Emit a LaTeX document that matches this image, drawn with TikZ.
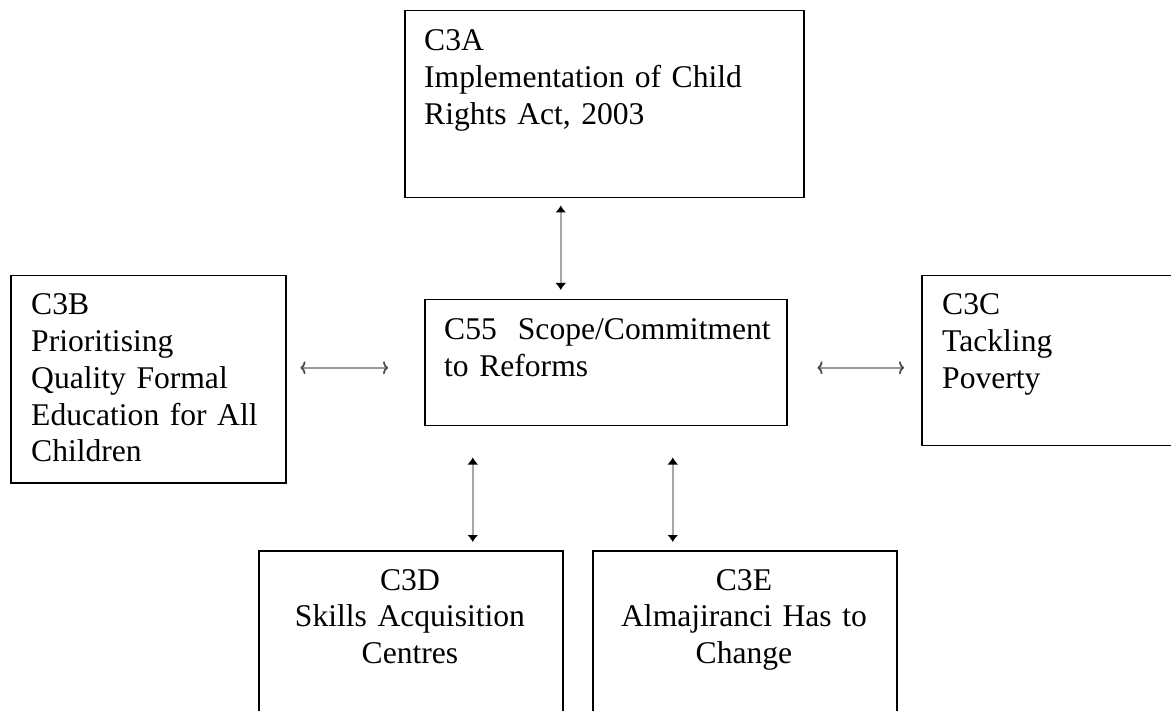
\documentclass[tikz,border=0pt]{standalone}
\usepackage{fontspec}
\setmainfont{Liberation Serif}
\usetikzlibrary{arrows.meta}
\begin{document}
\begin{tikzpicture}[x=1pt,y=-1pt,
  box/.style={draw=black,line width=1.5pt,rectangle,inner sep=0pt,anchor=north west},
  txt/.style={inner sep=0pt,font=\fontsize{31.6pt}{36.7pt}\selectfont,text width=380pt},
  ltxt/.style={txt,align=left,anchor=base west},
  ctxt/.style={txt,align=center,anchor=base},
  vlink/.style={draw=black!35,line width=2pt,{Latex[length=7pt,width=11pt,color=black]}-{Latex[length=7pt,width=11pt,color=black]}},
  hlink/.style={draw=black!40,line width=1.8pt,{To[length=5pt,width=13pt,color=black!70]}-{To[length=5pt,width=13pt,color=black!70]}}]
\clip (0,0) rectangle (1171,711);

% boxes
\node[box,minimum width=399pt,minimum height=187pt] (a) at (404,10) {};
\node[box,minimum width=362pt,minimum height=126pt] (c) at (424,299) {};
\node[box,minimum width=275pt,minimum height=207pt] (b) at (10,275) {};
\node[box,minimum width=300pt,minimum height=170pt] (r) at (921,275) {};
\node[box,minimum width=304pt,minimum height=200pt] (d) at (258,550) {};
\node[box,minimum width=304pt,minimum height=200pt] (e) at (592,550) {};

% labels
\node[ltxt] (ta) at (424,51) {C3A\\Implementation of Child\\Rights Act, 2003};
\node[ltxt] (tc) at (444,340) {C55~ Scope/Commitment\\to Reforms};
\node[ltxt] (tb) at (31,315) {C3B\\Prioritising\\Quality Formal\\Education for All\\Children};
\node[ltxt] (tr) at (942,315) {C3C\\Tackling\\Poverty};
\node[ctxt] (td) at (410,590) {C3D\\Skills Acquisition\\Centres};
\node[ctxt] (te) at (744,590) {C3E\\Almajiranci Has to\\Change};

% links
\draw[vlink,shorten <=7pt,shorten >=9pt] ([xshift=-43.5pt]a.south) -- ([xshift=-45pt]c.north);
\draw[vlink,shorten <=31pt,shorten >=8pt] ([xshift=-133pt]c.south) -- ([xshift=62pt]d.north);
\draw[vlink,shorten <=31pt,shorten >=8pt] ([xshift=67pt]c.south) -- ([xshift=-72pt]e.north);
\draw[hlink,shorten <=14pt,shorten >=36pt] ([yshift=11.5pt]b.east) -- ([yshift=-5pt]c.west);
\draw[hlink,shorten <=30pt,shorten >=17pt] ([yshift=-5pt]c.east) -- ([yshift=-7pt]r.west);
\end{tikzpicture}
\end{document}
